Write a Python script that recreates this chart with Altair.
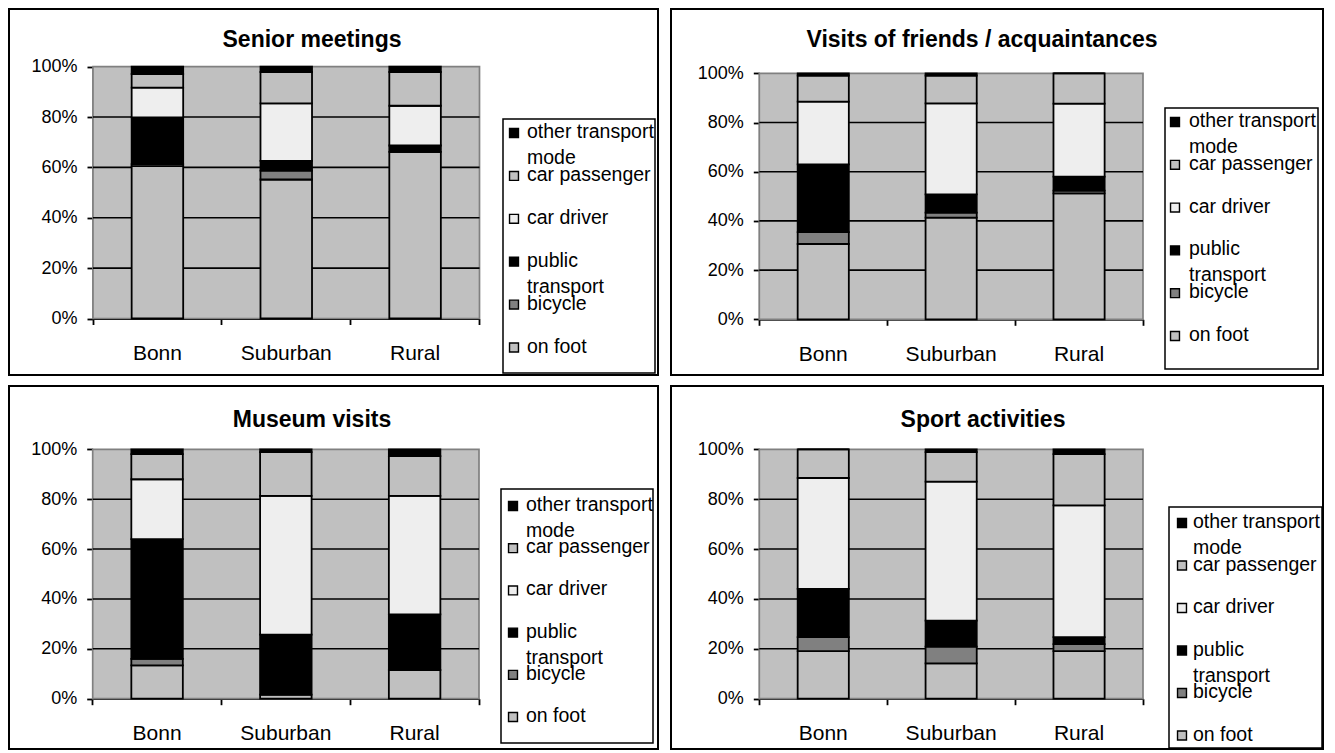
import altair as alt
import pandas as pd

FONT = "Liberation Sans"

# ---------------- data ----------------
categories = ["Bonn", "Suburban", "Rural"]
modes = ["on foot", "bicycle", "public transport", "car driver", "car passenger", "other transport mode"]
mode_colors = ["#C0C0C0", "#808080", "#000000", "#EEEEEE", "#C0C0C0", "#000000"]
legend_modes = ["other transport mode", "car passenger", "car driver", "public transport", "bicycle", "on foot"]
legend_labels = ["other transport\nmode", "car passenger", "car driver", "public\ntransport", "bicycle", "on foot"]
titles = ["Senior meetings", "Visits of friends / acquaintances", "Museum visits", "Sport activities"]
y_ticks = [0, 0.2, 0.4, 0.6, 0.8, 1.0]
grid_values = [0.2, 0.4, 0.6, 0.8]

# shares in percent, ordered like `modes` (bottom of the stack first)
senior_bonn = [60.5, 0.8, 18.6, 11.8, 5.4, 2.9]
senior_suburban = [55.2, 3.5, 3.9, 22.8, 12.5, 2.1]
senior_rural = [66.2, 0.0, 2.5, 15.8, 13.4, 2.1]
visits_bonn = [30.6, 4.8, 27.6, 25.5, 10.6, 0.9]
visits_suburban = [41.3, 2.1, 7.4, 37.0, 11.3, 0.9]
visits_rural = [51.2, 1.1, 5.7, 29.7, 12.3, 0.0]
museum_bonn = [13.4, 2.6, 48.0, 24.0, 10.1, 1.9]
museum_suburban = [1.6, 0.0, 24.1, 55.6, 17.6, 1.1]
museum_rural = [11.5, 0.0, 22.3, 47.5, 16.0, 2.7]
sport_bonn = [19.1, 5.6, 19.3, 44.5, 11.5, 0.0]
sport_suburban = [14.2, 6.7, 10.4, 55.7, 11.9, 1.1]
sport_rural = [19.1, 2.8, 2.8, 52.8, 20.6, 1.9]

panel_values = [
    [senior_bonn, senior_suburban, senior_rural],
    [visits_bonn, visits_suburban, visits_rural],
    [museum_bonn, museum_suburban, museum_rural],
    [sport_bonn, sport_suburban, sport_rural],
]

# ---------------- layout (page pixel geometry) ----------------
PAGE_MARGIN = 8
CHART_W, CHART_H = 1319, 745
LAYOUT = [
    dict(plot=(93, 479.5, 66.7, 318.5), border=(9, 658, 9, 375), lbox=(503, 655, 119, 373),
         ly=(133, 347.5), sym_x=514, lab_x=527, title=(312, 47)),
    dict(plot=(759.3, 1143, 73.3, 319.3), border=(671, 1323, 9, 375), lbox=(1165, 1318, 108, 369),
         ly=(122, 336), sym_x=1175, lab_x=1189, title=(982, 47)),
    dict(plot=(92.7, 479, 449.3, 698.7), border=(9, 658, 386, 749), lbox=(501, 653, 489, 743),
         ly=(506, 717), sym_x=513, lab_x=526, title=(312, 427)),
    dict(plot=(759.3, 1143, 449.3, 698.7), border=(671, 1323, 386, 749), lbox=(1169, 1322, 507, 748),
         ly=(523, 735.5), sym_x=1182, lab_x=1193, title=(983, 427)),
]

color_enc = alt.Color("mode:N", scale=alt.Scale(domain=modes, range=mode_colors), legend=None)
one = pd.DataFrame({"k": [0]})


def P(v):
    """page pixel -> chart pixel"""
    return v - PAGE_MARGIN


def rect_layer(box, **mark):
    x0, x1, y0, y1 = box
    return alt.Chart(one).mark_rect(**mark).encode(
        x=alt.value(P(x0)), x2=alt.value(P(x1)), y=alt.value(P(y0)), y2=alt.value(P(y1))
    )


def make_panel(title, values, g):
    px0, px1, py0, py1 = g["plot"]

    rows = []
    for cat, vals in zip(categories, values):
        for k, (m, v) in enumerate(zip(modes, vals)):
            rows.append({"cat": cat, "mode": m, "order": k, "value": v})
    bars_df = pd.DataFrame(rows)
    grid_df = pd.DataFrame({"value": grid_values})
    leg_df = pd.DataFrame({"mode": legend_modes, "label": legend_labels,
                           "li": list(range(len(legend_modes)))})

    y_axis = alt.Axis(title=None, orient="left", offset=-P(px0), values=y_ticks, format=".0%",
                      labelFontSize=18, labelPadding=10, labelFont=FONT, labelColor="black",
                      tickSize=6, tickColor="black", tickWidth=1.8,
                      domainColor="black", domainWidth=1.8, grid=False)
    y_scale = alt.Scale(domain=[0, 1], range=[P(py1), P(py0)], nice=False, zero=False)

    bg = rect_layer((px0, px1, py0, py1), fill="#C0C0C0", stroke="#808080", strokeWidth=1.7)

    grid = alt.Chart(grid_df).mark_rule(color="black", strokeWidth=1.6).encode(
        x=alt.value(P(px0)), x2=alt.value(P(px1)),
        y=alt.Y("value:Q", scale=y_scale, axis=y_axis),
    )

    bars = alt.Chart(bars_df).mark_bar(
        width=alt.RelativeBandSize(0.4), stroke="black", strokeWidth=1.8
    ).encode(
        x=alt.X("cat:N", sort=categories,
                scale=alt.Scale(range=[P(px0), P(px1)], paddingInner=0, paddingOuter=0),
                axis=alt.Axis(title=None, orient="bottom", offset=P(py1) - CHART_H,
                              labelAngle=0, labelFontSize=21, labelPadding=18,
                              labelFont=FONT, labelColor="black",
                              tickSize=6, tickColor="black", tickWidth=1.8,
                              domainColor="black", domainWidth=1.8,
                              bandPosition=1, tickExtra=True, grid=False)),
        y=alt.Y("value:Q", stack="normalize", scale=y_scale, axis=y_axis),
        color=color_enc,
        order=alt.Order("order:Q", sort="ascending"),
    )
    plot = alt.layer(bg, grid, bars)

    lbox = rect_layer(g["lbox"], fill="white", stroke="black", strokeWidth=1.5)

    ly0, ly5 = g["ly"]
    ly_enc = alt.Y("li:Q", scale=alt.Scale(domain=[0, 5], range=[P(ly0), P(ly5)], nice=False, zero=False),
                   axis=None)
    lsym = alt.Chart(leg_df).mark_square(size=80, opacity=1, stroke="black", strokeWidth=1.4).encode(
        x=alt.value(P(g["sym_x"])), y=ly_enc, color=color_enc,
    )
    ltext = alt.Chart(leg_df).mark_text(
        align="left", baseline="alphabetic", dy=5, lineBreak="\n", lineHeight=26,
        fontSize=19.5, font=FONT, color="black",
    ).encode(x=alt.value(P(g["lab_x"])), y=ly_enc, text="label:N")
    legend = alt.layer(lsym, ltext)

    tx, ty = g["title"]
    ttl = alt.Chart(one).mark_text(
        text=title, fontSize=23, fontWeight="bold", font=FONT, color="black",
        align="center", baseline="alphabetic",
    ).encode(x=alt.value(P(tx)), y=alt.value(P(ty)))

    border = rect_layer(g["border"], fillOpacity=0, stroke="black", strokeWidth=2)

    return [plot, lbox, legend, ttl, border]


layers = []
for t, v, g in zip(titles, panel_values, LAYOUT):
    layers.extend(make_panel(t, v, g))

chart = alt.layer(*layers).resolve_scale(x="independent", y="independent").properties(
    width=CHART_W, height=CHART_H, autosize="none", padding=0
).configure_view(stroke=None).configure_text(font=FONT)

chart.save("out.html", embed_options={"renderer": "svg", "actions": False})
